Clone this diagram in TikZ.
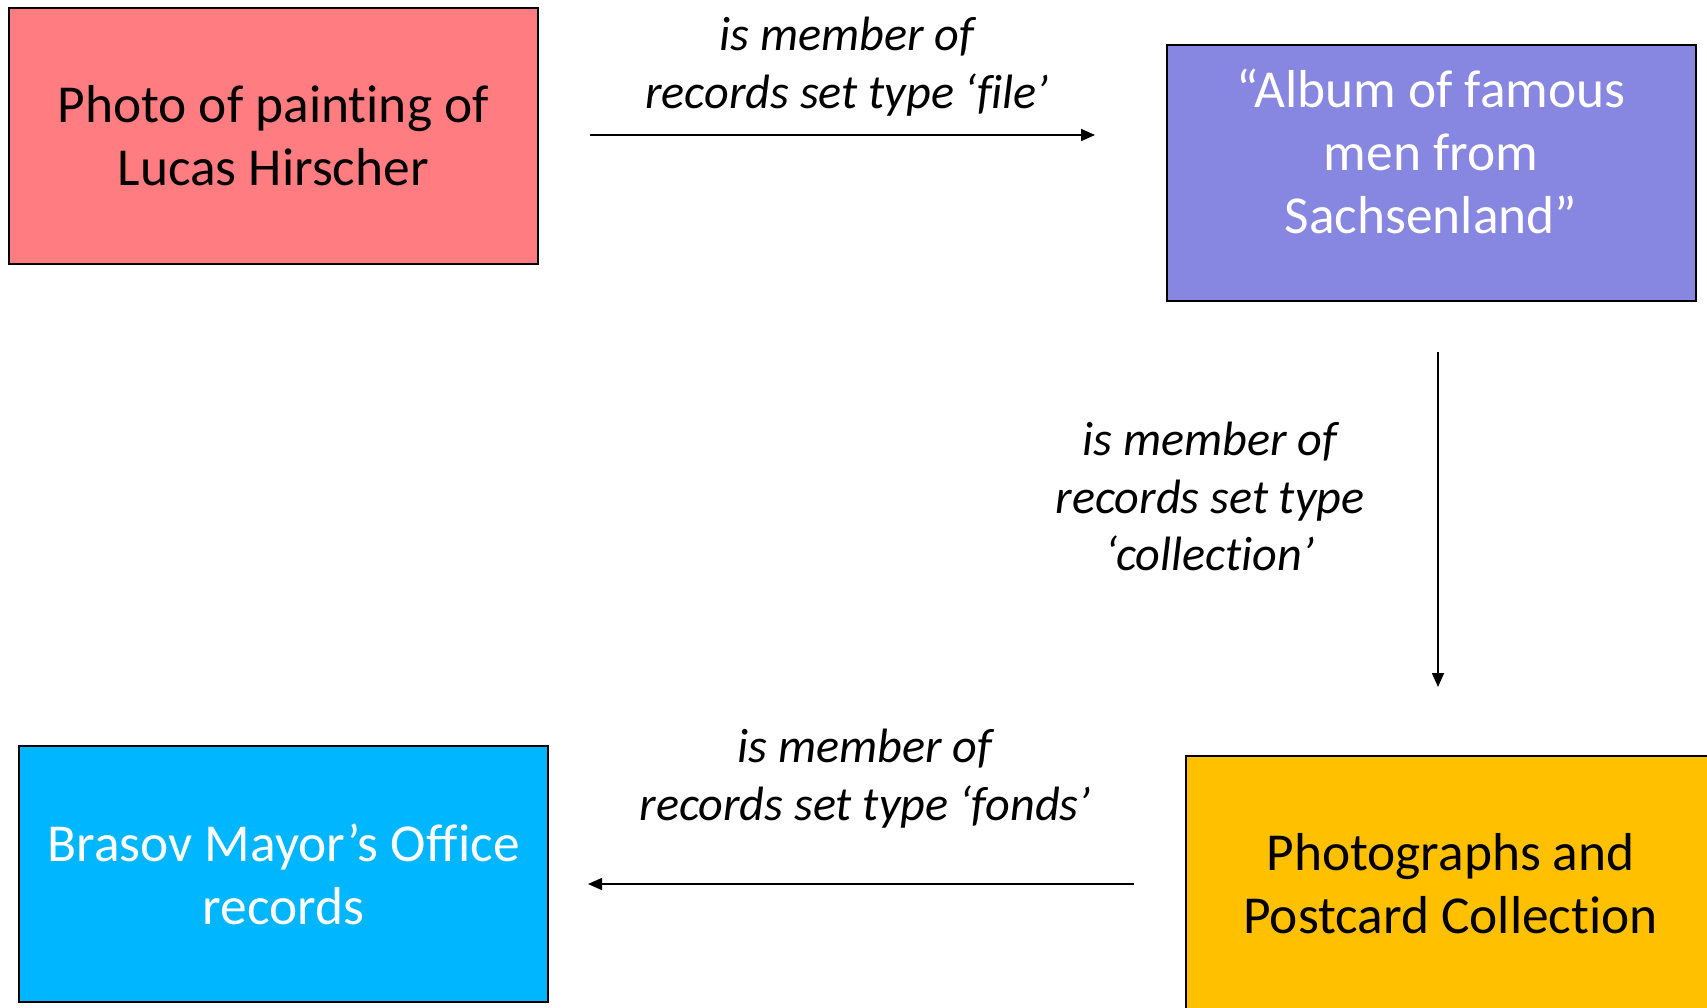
\documentclass[tikz,border=0pt]{standalone}
\usepackage{fontspec}
\setmainfont[Ligatures={NoCommon}]{Carlito}
\usetikzlibrary{arrows.meta}

\definecolor{photored}{HTML}{FF7C80}
\definecolor{albumblue}{HTML}{8786E0}
\definecolor{officeblue}{HTML}{00B7FF}
\definecolor{postgold}{HTML}{FFC000}

\tikzset{
  recbox/.style={draw=black, line width=1pt, minimum width=264.5pt, minimum height=128pt,
    inner sep=0pt, align=center, font=\fontsize{26.7}{31.5}\selectfont},
  rellabel/.style={align=center, font=\fontsize{24.1}{28.9}\selectfont\itshape},
  memberof/.style={-{Triangle[length=7pt,width=6pt]}, line width=0.8pt}
}

\begin{document}
\begin{tikzpicture}[x=0.5pt,y=-0.5pt]
\useasboundingbox (0,0) rectangle (1707,1007);
\clip (0,0) rectangle (1707,1007);

\node[recbox, fill=photored] (photo) at (273.2,135.5) {Photo of painting of\\Lucas Hirscher};
\node[recbox, fill=albumblue] (album) at (1431,172.5) {};
\node[align=center, text=white, font=\fontsize{26.7}{31.5}\selectfont] (albumtext) at (1431,151)
  {“Album of famous\\men from\\Sachsenland”};
\node[recbox, fill=officeblue, text=white] (brasov) at (283.6,874.3) {Brasov Mayor’s Office\\records};
\node[recbox, fill=postgold] (photos) at (1450.6,883.6) {Photographs and\\Postcard Collection};

% connectors
\coordinate (fileA) at (590,135);
\coordinate (fileB) at (1095,135);
\coordinate (collA) at (1438,351.6);
\coordinate (collB) at (1438,687);
\coordinate (fondsA) at (1134,884);
\coordinate (fondsB) at (588,884);

\draw[memberof] (fileA) -- (fileB);
\draw[memberof] (collA) -- (collB);
\draw[memberof] (fondsA) -- (fondsB);

\node[rellabel] (filelabel) at (847,67) {is member of\\records set type ‘file’};
\node[rellabel] (colllabel) at (1210,496.5) {is member of\\records set type\\‘collection’};
\node[rellabel] (fondslabel) at (865,778.5) {is member of\\records set type ‘fonds’};
\end{tikzpicture}
\end{document}
